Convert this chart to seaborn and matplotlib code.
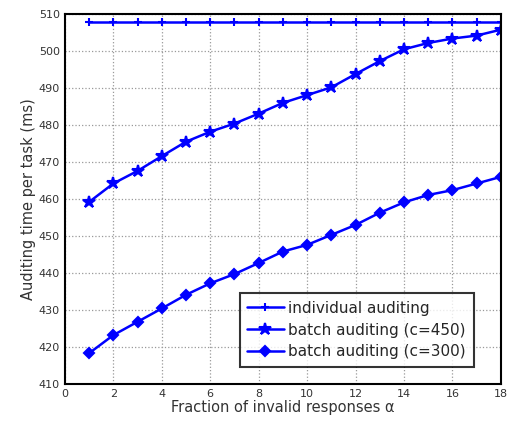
import numpy as np
import pandas as pd
import seaborn as sns
import matplotlib
matplotlib.use("Agg")
import matplotlib.pyplot as plt

# Данные
alpha = list(range(1, 19))
individual = [508] * 18
batch_450 = [459.2, 464.2, 467.6, 471.6, 475.5, 478.2, 480.4, 483.1, 486.0,
             488.1, 490.2, 493.8, 497.3, 500.5, 502.2, 503.4, 504.2, 505.8]
batch_300 = [418.3, 423.2, 426.8, 430.4, 434.1, 437.2, 439.7, 442.7, 445.8,
             447.6, 450.3, 453.0, 456.3, 459.1, 461.1, 462.4, 464.2, 466.0]
labels = ['individual auditing', 'batch auditing (c=450)', 'batch auditing (c=300)']

df = pd.DataFrame({
    'alpha': alpha * 3,
    'time': individual + batch_450 + batch_300,
    'series': [labels[0]] * 18 + [labels[1]] * 18 + [labels[2]] * 18,
})

sns.set_style('white')
plt.rcParams['font.family'] = ['DejaVu Sans']

fig = plt.figure(figsize=(5.07, 4.28), dpi=100)
ax = fig.add_axes([0.128, 0.103, 0.86, 0.864])

markers = {labels[0]: '+', labels[1]: '*', labels[2]: 'D'}
sizes = {labels[0]: 6, labels[1]: 9, labels[2]: 5}
for lab in labels:
    sub = df[df['series'] == lab]
    sns.lineplot(data=sub, x='alpha', y='time', ax=ax, color='#0000ff',
                 marker=markers[lab], markersize=sizes[lab], markeredgewidth=1.5,
                 markeredgecolor='#0000ff', linewidth=1.8, label=lab)

ax.set_xlim(0, 18)
ax.set_ylim(410, 510)
ax.set_xticks(range(0, 19, 2))
ax.set_yticks(range(410, 511, 10))
ax.grid(True, linestyle=':', color='#999999', linewidth=0.9)
ax.tick_params(direction='in', labelsize=8, colors='#333333', length=4)
for sp in ax.spines.values():
    sp.set_color('black')
    sp.set_linewidth(1.5)
ax.set_xlabel('Fraction of invalid responses α', fontsize=10.5, color='#333333', labelpad=1)
ax.set_ylabel('Auditing time per task (ms)', fontsize=10.5, color='#333333', labelpad=2)

leg = ax.legend(loc='lower right', fontsize=11, frameon=True, fancybox=False,
                edgecolor='black', borderpad=0.5, handlelength=2.4, handletextpad=0.3,
                labelspacing=0.45, bbox_to_anchor=(0.955, 0.025))
leg.get_frame().set_linewidth(1.5)

fig.savefig('out.png', dpi=100)
